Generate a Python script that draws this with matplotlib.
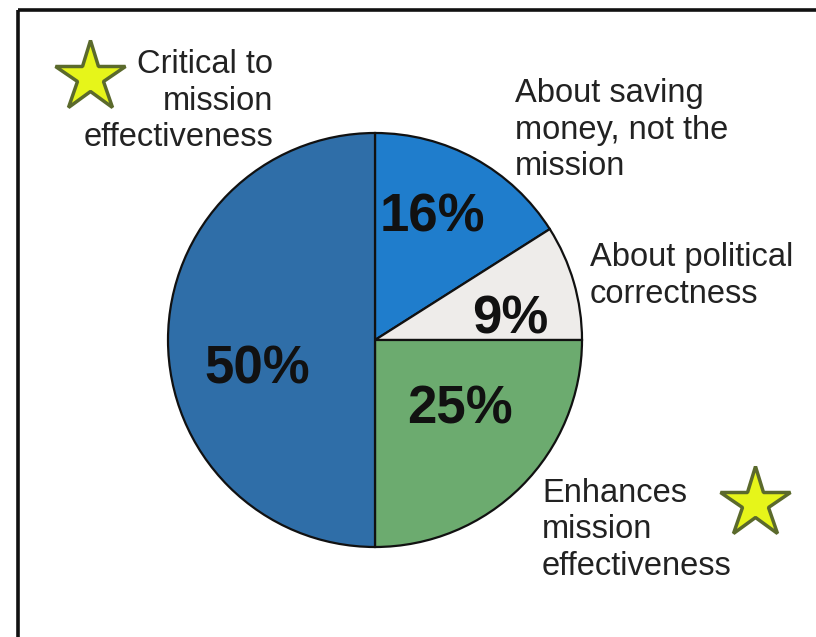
import matplotlib
matplotlib.use("Agg")
import matplotlib.pyplot as plt

plt.rcParams["font.family"] = ["Liberation Sans", "DejaVu Sans"]

# slice data, in drawing order (clockwise from 12 o'clock)
shares = [16, 9, 25, 50]
pct_labels = ["16%", "9%", "25%", "50%"]
categories = [
    "About saving\nmoney, not the\nmission",
    "About political\ncorrectness",
    "Enhances\nmission\neffectiveness",
    "Critical to\nmission\neffectiveness",
]
colors = ["#1f7dcc", "#eeecea", "#6cab6f", "#2f6ea8"]

W, H = 816, 637
fig = plt.figure(figsize=(W / 100, H / 100), dpi=100)
ax = fig.add_axes([0, 0, 1, 1])

# pie laid out in pixel-like coordinates (y up)
cx, cy, r = 375, H - 340, 207
wedges, _ = ax.pie(shares, colors=colors, startangle=90, counterclock=False,
                   center=(cx, cy), radius=r,
                   wedgeprops=dict(edgecolor="#111111", linewidth=1.6))
ax.set_xlim(0, W)
ax.set_ylim(0, H)
ax.set_aspect("equal")
ax.axis("off")

# percentage labels inside the slices
pct_pos = [(432, 218), (510, 320), (460, 410), (257, 370)]
for lab, (x, y) in zip(pct_labels, pct_pos):
    ax.text(x, H - y, lab, ha="center", va="center", fontsize=38,
            fontweight="bold", color="#111111")

# category labels around the pie
cat_pos = [(515, 130, "left"), (590, 276, "left"), (542, 530, "left"), (273, 101, "right")]
for lab, (x, y, ha) in zip(categories, cat_pos):
    ax.text(x, H - y, lab, ha=ha, va="center", fontsize=23.5,
            color="#222222", linespacing=1.22)

# stars next to the two "effectiveness" answers
for sx, sy in [(90, 77), (755, 503)]:
    ax.plot(sx, H - sy, marker="*", markersize=53, markerfacecolor="#e6f51a",
            markeredgecolor="#5b6a2c", markeredgewidth=2.5)

# frame around the panel (open on the right and bottom)
ax.plot([18, 18], [0, H - 10], color="#111111", lw=2.6, solid_capstyle="butt")
ax.plot([18, W], [H - 10, H - 10], color="#111111", lw=2.6, solid_capstyle="butt")

fig.savefig("out.png", dpi=100, facecolor="white")
